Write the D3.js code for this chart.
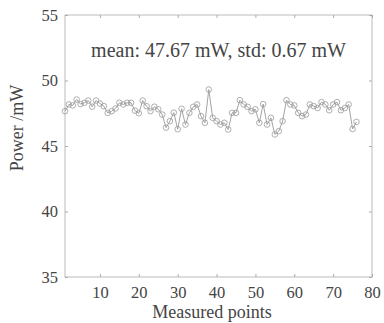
<!DOCTYPE html>
<html>
<head>
<script src="https://d3js.org/d3.v7.min.js"></script>
<style>
    body { margin: 0; background: #fff; }
    text { font-family: 'Liberation Serif', serif; fill: #444; }
</style>
</head>
<body>
<script>
    // measured power readings (mW), one per point
    var power = [
        47.66, 48.17, 48.10, 48.55, 48.20, 48.30, 48.47, 48.00, 48.47, 48.24,
        48.04, 47.53, 47.66, 47.86, 48.30, 48.17, 48.30, 48.30, 47.70, 47.50,
        48.47, 48.04, 47.66, 48.00, 47.80, 47.40, 46.40, 46.90, 47.55, 46.28,
        47.84, 46.64, 47.53, 47.99, 48.17, 47.28, 46.77, 49.31, 47.15, 46.90,
        46.64, 46.77, 46.26, 47.53, 47.53, 48.50, 48.17, 47.99, 47.66, 47.80,
        46.77, 48.20, 46.64, 47.15, 45.88, 46.13, 46.90, 48.50, 48.17, 48.10,
        47.53, 47.28, 47.40, 48.17, 48.04, 47.90, 48.35, 48.17, 47.73, 48.17,
        48.35, 47.73, 47.90, 48.17, 46.30, 46.84
    ];
    var xTicks = [10, 20, 30, 40, 50, 60, 70, 80];
    var yTicks = [35, 40, 45, 50, 55];
    var title = 'mean: 47.67 mW, std: 0.67 mW';

    var W = 384, H = 323;
    var margin = { top: 15, right: 12, bottom: 46, left: 65 },
        width = W - margin.left - margin.right,
        height = H - margin.top - margin.bottom;

    var svg = d3.select('body')
        .append('svg')
        .attr('width', W)
        .attr('height', H);

    var g = svg.append('g')
        .attr('transform', 'translate(' + margin.left + ',' + margin.top + ')');

    var x = d3.scaleLinear().domain([1, 80]).range([0, width]);
    var y = d3.scaleLinear().domain([35, 55]).range([height, 0]);

    // axes with small inward ticks
    function styleAxis(sel) {
        sel.select('.domain').remove();
        sel.selectAll('line').attr('stroke', '#999').attr('stroke-width', 0.8);
        sel.selectAll('text').style('font-size', '16.5px').attr('fill', '#444');
    }

    g.append('g')
        .attr('transform', 'translate(0,' + height + ')')
        .call(d3.axisBottom(x).tickValues(xTicks).tickSizeInner(-3).tickPadding(9))
        .call(styleAxis);
    g.append('g')
        .call(d3.axisTop(x).tickValues(xTicks).tickSizeInner(-3).tickFormat(''))
        .call(styleAxis);
    g.append('g')
        .call(d3.axisLeft(y).tickValues(yTicks).tickSizeInner(-3).tickPadding(7))
        .call(styleAxis);
    g.append('g')
        .attr('transform', 'translate(' + width + ',0)')
        .call(d3.axisRight(y).tickValues(yTicks).tickSizeInner(-3).tickFormat(''))
        .call(styleAxis);

    // frame
    g.append('rect')
        .attr('width', width)
        .attr('height', height)
        .attr('fill', 'none')
        .attr('stroke', '#aaa')
        .attr('stroke-width', 0.8);

    // data line + open markers
    var line = d3.line()
        .x(function (d, i) { return x(i + 1); })
        .y(function (d) { return y(d); });

    g.append('path')
        .datum(power)
        .attr('d', line)
        .attr('fill', 'none')
        .attr('stroke', '#999')
        .attr('stroke-width', 0.9);

    g.selectAll('circle')
        .data(power)
        .enter()
        .append('circle')
        .attr('cx', function (d, i) { return x(i + 1); })
        .attr('cy', function (d) { return y(d); })
        .attr('r', 2.8)
        .attr('fill', 'none')
        .attr('stroke', '#999')
        .attr('stroke-width', 0.8);

    // labels
    g.append('text')
        .attr('x', width / 2)
        .attr('y', 42)
        .attr('text-anchor', 'middle')
        .style('font-size', '20px')
        .text(title);

    svg.append('text')
        .attr('x', 212)
        .attr('y', 318)
        .attr('text-anchor', 'middle')
        .style('font-size', '18px')
        .text('Measured points');

    svg.append('text')
        .attr('transform', 'translate(23,128) rotate(-90)')
        .attr('text-anchor', 'middle')
        .style('font-size', '18px')
        .text('Power /mW');
</script>
</body>
</html>
